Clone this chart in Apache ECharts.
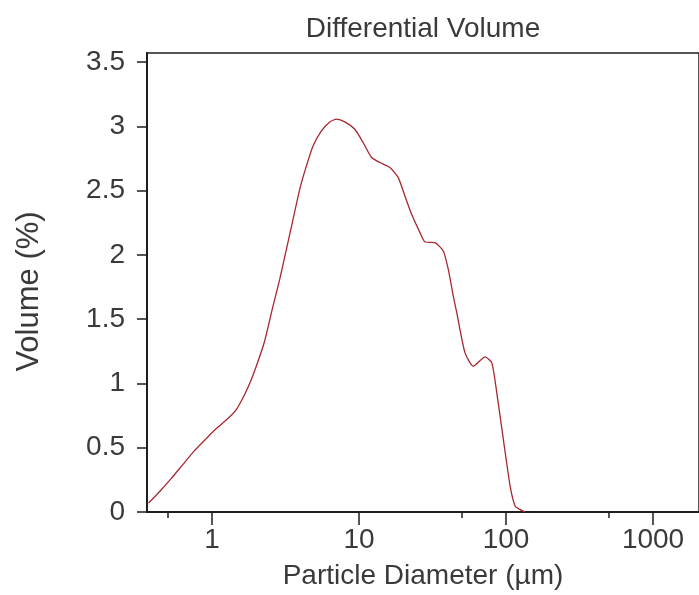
<!DOCTYPE html>
<html>
<head>
<meta charset="utf-8">
<script src="https://cdn.jsdelivr.net/npm/echarts@6/dist/echarts.min.js"></script>
<style>
html,body{margin:0;padding:0;background:#fff;}
#c{width:699px;height:595px;}
</style>
</head>
<body>
<div id="c"></div>
<script>
// Particle diameter (µm) and differential volume (%)
const diameters = [0.37, 0.439, 0.527, 0.632, 0.76, 0.913, 1.068, 1.281, 1.462, 1.666, 1.85, 2.052, 2.28, 2.598, 2.885, 3.204, 3.556, 3.948, 4.385, 4.866, 5.548, 6.322, 7.026, 8.002, 9.357, 10.66, 12.17, 13.87, 16.22, 18.48, 20.51, 22.79, 25.97, 28.09, 32.86, 37.42, 40.47, 43.76, 46.2, 52.6, 59.9, 72.0, 80.0, 86.5, 95.9, 106.7, 115.4, 124.0, 134.9];
const volumes = [0.07, 0.158, 0.26, 0.368, 0.477, 0.571, 0.649, 0.727, 0.797, 0.914, 1.03, 1.17, 1.33, 1.601, 1.809, 2.043, 2.276, 2.51, 2.692, 2.847, 2.964, 3.034, 3.055, 3.034, 2.977, 2.874, 2.757, 2.718, 2.679, 2.601, 2.458, 2.315, 2.173, 2.1, 2.095, 2.03, 1.887, 1.679, 1.55, 1.238, 1.134, 1.207, 1.16, 0.927, 0.563, 0.199, 0.044, 0.02, 0.0];
const xMajorTicks = [1, 10, 100, 1000];
const xMinorTicks = [0.5, 50, 500];
const yTicks = [0, 0.5, 1, 1.5, 2, 2.5, 3, 3.5];
const titleText = 'Differential Volume';
const xName = 'Particle Diameter (\u00b5m)';
const yName = 'Volume (%)';

const seriesData = diameters.map((d, i) => [d, volumes[i]]);
const FONT = 'Liberation Sans, Arial, sans-serif';
const TXT = '#3a3a3a';
const AX = '#1e1e1e';
const xMin = 0.361, xMax = 2054;

const chart = echarts.init(document.getElementById('c'), null, {renderer: 'canvas'});
chart.setOption({
  animation: false,
  backgroundColor: '#ffffff',
  title: {
    text: titleText, left: 423, top: 15, textAlign: 'center', padding: 0,
    textStyle: {fontFamily: FONT, fontSize: 28, fontWeight: 'normal', color: TXT}
  },
  grid: {
    left: 147, top: 53, right: 0, bottom: 83, containLabel: false,
    show: true, borderColor: AX, borderWidth: 1.5, backgroundColor: 'transparent'
  },
  xAxis: [{
    type: 'log', logBase: 10, min: xMin, max: xMax, position: 'bottom',
    name: xName, nameLocation: 'middle', nameGap: 50,
    nameTextStyle: {fontFamily: FONT, fontSize: 28, color: TXT},
    axisLine: {show: true, lineStyle: {color: AX, width: 2}},
    axisTick: {show: true, inside: false, length: 13, customValues: xMajorTicks, lineStyle: {color: AX, width: 1.5}},
    axisLabel: {customValues: xMajorTicks, margin: 14, fontFamily: FONT, fontSize: 28, color: TXT,
      formatter: v => String(Math.round(v))},
    splitLine: {show: false}, minorTick: {show: false}
  }, {
    type: 'log', logBase: 10, min: xMin, max: xMax, position: 'bottom', gridIndex: 0,
    axisLine: {show: false},
    axisTick: {show: true, inside: false, length: 6, customValues: xMinorTicks, lineStyle: {color: AX, width: 1.5}},
    axisLabel: {show: false},
    splitLine: {show: false}
  }],
  yAxis: {
    type: 'value', min: 0, max: 3.57,
    name: yName, nameLocation: 'middle', nameGap: 102, nameRotate: 90,
    nameTextStyle: {fontFamily: FONT, fontSize: 31, color: TXT, padding: [0, 18, 0, 0]},
    axisLine: {show: true, lineStyle: {color: AX, width: 2}},
    axisTick: {show: true, inside: false, length: 10, customValues: yTicks, lineStyle: {color: AX, width: 1.5}},
    axisLabel: {customValues: yTicks, margin: 22, fontFamily: FONT, fontSize: 28, color: TXT},
    splitLine: {show: false}
  },
  series: [{
    type: 'line', xAxisIndex: 0, yAxisIndex: 0,
    data: seriesData, showSymbol: false, symbol: 'none', smooth: 0.2,
    lineStyle: {color: '#a8282e', width: 1.3},
    clip: true
  }]
});
</script>
</body>
</html>
